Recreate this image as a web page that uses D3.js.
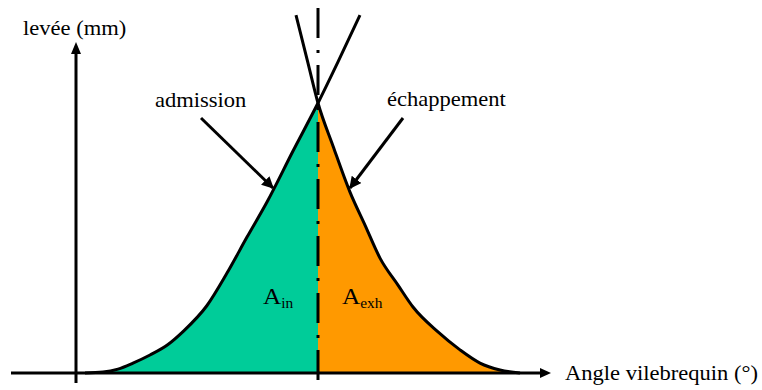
<!DOCTYPE html>
<html>
<head>
<meta charset="utf-8">
<script src="https://cdn.jsdelivr.net/npm/d3@7"></script>
<style>
  body { margin: 0; background: #fff; }
</style>
</head>
<body>
<div id="chart"></div>
<script>
// crank angle (deg, 0 = crossing) and valve lift (mm)
let intakeAngle = [-233, -215, -200, -185, -168, -150, -135, -111, -91, -71, -51, -25, 0, 20, 42]
let intakeLift = [0, 0.03, 0.13, 0.33, 0.6, 0.95, 1.38, 2.25, 3.33, 4.53, 5.7, 7.4, 9.0, 10.37, 11.93]
let exhaustAngle = [-22, -10, 0, 15, 32, 47, 62, 80, 95, 120, 142, 162, 182, 202]
let exhaustLift = [11.93, 10.33, 9.0, 7.57, 6.03, 4.93, 3.83, 2.93, 2.2, 1.37, 0.77, 0.33, 0.1, 0]
let crossAngle = 0

const W = 762
const H = 390
const FONT = '"Liberation Serif", "Times New Roman", "DejaVu Serif", serif'

function main () {
  let svg = d3.select('#chart').append('svg').attr('width', W).attr('height', H)

  let x = d3.scaleLinear().domain([-242, 232]).range([76, 550])
  let y = d3.scaleLinear().domain([0, 12]).range([373, 13])

  let intake = intakeAngle.map((a, i) => ({ a: a, l: intakeLift[i] }))
  let exhaust = exhaustAngle.map((a, i) => ({ a: a, l: exhaustLift[i] }))

  let defs = svg.append('defs')
  defs.append('clipPath').attr('id', 'clipL').append('rect')
    .attr('x', 0).attr('y', 0).attr('width', x(crossAngle)).attr('height', H)
  defs.append('clipPath').attr('id', 'clipR').append('rect')
    .attr('x', x(crossAngle)).attr('y', 0).attr('width', W - x(crossAngle)).attr('height', H)
  defs.append('marker').attr('id', 'head')
    .attr('viewBox', '0 0 10 10').attr('refX', 9).attr('refY', 5)
    .attr('markerWidth', 4).attr('markerHeight', 4).attr('markerUnits', 'strokeWidth')
    .attr('orient', 'auto')
    .append('path').attr('d', 'M0,0 L10,5 L0,10 Z').attr('fill', '#000')

  let area = d3.area().x((d) => x(d.a)).y0(y(0)).y1((d) => y(d.l)).curve(d3.curveMonotoneX)
  let line = d3.line().x((d) => x(d.a)).y((d) => y(d.l)).curve(d3.curveMonotoneX)

  // fills, split at the crossing
  svg.append('path').datum(intake).attr('d', area).attr('fill', '#00cc99').attr('clip-path', 'url(#clipL)')
  svg.append('path').datum(exhaust).attr('d', area).attr('fill', '#ff9900').attr('clip-path', 'url(#clipR)')

  // axes
  svg.append('line').attr('x1', 11).attr('y1', y(0)).attr('x2', 543).attr('y2', y(0))
    .attr('stroke', '#000').attr('stroke-width', 3)
  svg.append('path').attr('d', `M540,${y(0) - 5} L551,${y(0)} L540,${y(0) + 5} Z`).attr('fill', '#000')
  svg.append('line').attr('x1', x(-242)).attr('y1', 383).attr('x2', x(-242)).attr('y2', 50)
    .attr('stroke', '#000').attr('stroke-width', 3)
  svg.append('path').attr('d', `M${x(-242) - 5},54 L${x(-242)},42 L${x(-242) + 5},54 Z`).attr('fill', '#000')

  // curves
  svg.append('path').datum(intake).attr('d', line).attr('fill', 'none')
    .attr('stroke', '#000').attr('stroke-width', 3)
  svg.append('path').datum(exhaust).attr('d', line).attr('fill', 'none')
    .attr('stroke', '#000').attr('stroke-width', 3)

  // dash-dot line at crossing
  svg.append('line').attr('x1', x(crossAngle)).attr('y1', 8).attr('x2', x(crossAngle)).attr('y2', 384)
    .attr('stroke', '#000').attr('stroke-width', 3).attr('stroke-dasharray', '30,12,3,12')

  // annotation arrows
  svg.append('line').attr('x1', 201).attr('y1', 118).attr('x2', 273).attr('y2', 188)
    .attr('stroke', '#000').attr('stroke-width', 3).attr('marker-end', 'url(#head)')
  svg.append('line').attr('x1', 403).attr('y1', 118).attr('x2', 350).attr('y2', 188)
    .attr('stroke', '#000').attr('stroke-width', 3).attr('marker-end', 'url(#head)')

  // labels
  label(svg, 23, 35, 'levée (mm)', 20.5)
  label(svg, 155, 107, 'admission', 20.5)
  label(svg, 387, 106, 'échappement', 20.5)
  label(svg, 565, 380, 'Angle vilebrequin (°)', 20.5)

  let ain = label(svg, 263, 304, 'A', 23)
  ain.append('tspan').attr('font-size', 14).attr('dy', 4).text('in')
  let aex = label(svg, 342, 304, 'A', 23)
  aex.append('tspan').attr('font-size', 14).attr('dy', 4).text('exh')
}

function label (svg, px, py, s, size) {
  return svg.append('text')
    .attr('transform', `translate(${px},${py}) scale(1.1,1)`)
    .attr('font-family', FONT)
    .attr('font-size', size)
    .attr('fill', '#000')
    .text(s)
}

main()
</script>
</body>
</html>
